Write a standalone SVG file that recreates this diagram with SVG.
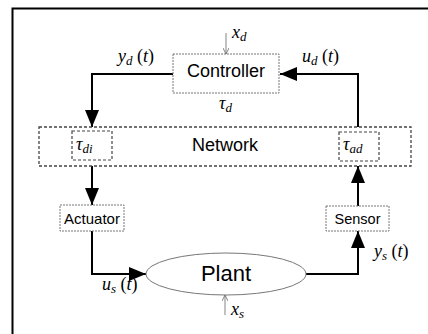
<svg xmlns="http://www.w3.org/2000/svg" width="428" height="334" viewBox="0 0 428 334">
<defs>
<marker id="ah" markerUnits="userSpaceOnUse" markerWidth="17" markerHeight="14" refX="17" refY="7" orient="auto"><path d="M0,0 L17,7 L0,14 z" fill="#000"/></marker>
<marker id="sa" markerUnits="userSpaceOnUse" markerWidth="6" markerHeight="6" refX="6" refY="3" orient="auto"><path d="M0,0 L6,3 L0,6" fill="none" stroke="#666" stroke-width="0.8"/></marker>
<style>
.box{fill:#fff;stroke:#777;stroke-width:1;stroke-dasharray:2,1}
.net{fill:none;stroke:#444;stroke-width:1.3;stroke-dasharray:3,2}
.tbox{fill:none;stroke:#444;stroke-width:1.2;stroke-dasharray:3,2}
.conn{fill:none;stroke:#000;stroke-width:2}
.thin{fill:none;stroke:#666;stroke-width:0.8}
.lbl{font-family:"Liberation Sans",Arial,sans-serif;fill:#000;text-anchor:middle}
.m{font-family:"Liberation Serif","Times New Roman",serif;font-style:italic;fill:#000;font-size:18px}
.up{font-style:normal}
</style>
</defs>
<rect width="428" height="334" fill="#fff"/>
<path d="M12.5,334 V8.5 H428" fill="none" stroke="#000" stroke-width="2"/>

<g id="connectors">
<path class="conn" d="M173,74 H92 V127" marker-end="url(#ah)"/>
<path class="conn" d="M92,166 V205" marker-end="url(#ah)"/>
<path class="conn" d="M92,231 V274 H146" marker-end="url(#ah)"/>
<path class="conn" d="M306,274 H358 V231" marker-end="url(#ah)"/>
<path class="conn" d="M358,206 V166" marker-end="url(#ah)"/>
<path class="conn" d="M358,127 V74 H280" marker-end="url(#ah)"/>
<path class="thin" d="M226,33 V54" marker-end="url(#sa)"/>
<path class="thin" d="M225,315 V295" marker-end="url(#sa)"/>
</g>

<g id="network">
<rect class="net" x="39" y="127" width="372" height="39"/>
<text class="lbl" x="225" y="151" font-size="18">Network</text>
</g>
<g id="tau_di">
<rect class="tbox" x="72" y="131" width="40" height="29"/>
<text class="m" x="76" y="150">τ<tspan font-size="13" dy="3">di</tspan></text>
</g>
<g id="tau_ad">
<rect class="tbox" x="339" y="132" width="40" height="29"/>
<text class="m" x="343" y="150">τ<tspan font-size="13" dy="3">ad</tspan></text>
</g>
<g id="controller">
<rect class="box" x="173" y="54" width="106" height="39"/>
<text class="lbl" x="226" y="77" font-size="18">Controller</text>
</g>
<g id="actuator">
<rect class="box" x="60" y="205" width="64" height="26"/>
<text class="lbl" x="92" y="224" font-size="15">Actuator</text>
</g>
<g id="sensor">
<rect class="box" x="326" y="206" width="63" height="25"/>
<text class="lbl" x="357.5" y="224" font-size="14.5">Sensor</text>
</g>
<g id="plant">
<ellipse cx="226" cy="274" rx="80" ry="21" fill="#fff" stroke="#777" stroke-width="1"/>
<text class="lbl" x="226" y="281" font-size="22">Plant</text>
</g>

<g id="labels">
<text class="m" x="118" y="62">y<tspan font-size="13" dy="3">d</tspan><tspan dy="-3" class="up"> (</tspan>t<tspan class="up">)</tspan></text>
<text class="m" x="302" y="62">u<tspan font-size="13" dy="3">d</tspan><tspan dy="-3" class="up"> (</tspan>t<tspan class="up">)</tspan></text>
<text class="m" x="219" y="109">τ<tspan font-size="13" dy="3">d</tspan></text>
<text class="m" x="102" y="290">u<tspan font-size="13" dy="3">s</tspan><tspan dy="-3" class="up"> (</tspan>t<tspan class="up">)</tspan></text>
<text class="m" x="374" y="257">y<tspan font-size="13" dy="3">s</tspan><tspan dy="-3" class="up"> (</tspan>t<tspan class="up">)</tspan></text>
<text class="m" x="232" y="38">x<tspan font-size="13" dy="3">d</tspan></text>
<text class="m" x="231" y="315">x<tspan font-size="13" dy="3">s</tspan></text>
</g>
</svg>
